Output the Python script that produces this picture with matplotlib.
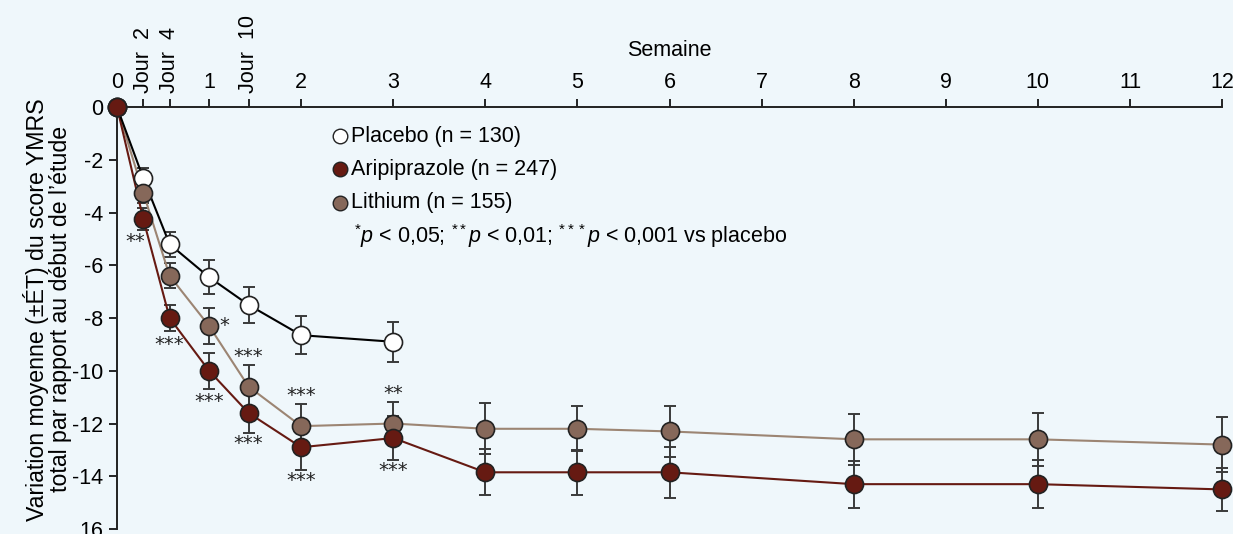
import matplotlib
matplotlib.use("Agg")
from matplotlib import pyplot as plt

plt.rcParams['font.family'] = ['Liberation Sans', 'DejaVu Sans']
plt.rcParams['mathtext.fontset'] = 'custom'
plt.rcParams['mathtext.rm'] = 'Liberation Sans'
plt.rcParams['mathtext.it'] = 'Liberation Sans:italic'

# time points in weeks (day 2, day 4, day 10 -> /7)
weeks = [0, 2/7, 4/7, 1, 10/7, 2, 3, 4, 5, 6, 8, 10, 12]
weeks_placebo = [0, 2/7, 4/7, 1, 10/7, 2, 3]

placebo = [0, -2.7, -5.2, -6.45, -7.5, -8.65, -8.9]
placebo_err = [0, 0.4, 0.47, 0.65, 0.68, 0.72, 0.76]

aripiprazole = [0, -4.25, -8.0, -10.0, -11.6, -12.9, -12.55, -13.85, -13.85, -13.85, -14.3, -14.3, -14.5]
aripiprazole_err = [0, 0.42, 0.5, 0.68, 0.76, 0.85, 0.82, 0.88, 0.86, 0.96, 0.89, 0.9, 0.82]

lithium = [0, -3.25, -6.4, -8.3, -10.6, -12.1, -12.0, -12.2, -12.2, -12.3, -12.6, -12.6, -12.8]
lithium_err = [0, 0.4, 0.47, 0.7, 0.82, 0.84, 0.82, 0.96, 0.86, 0.96, 0.96, 1.0, 1.03]

# significance marks: (x, y, text)
stars = [
    (0.2, -5.1, '**'),
    (4/7, -9.02, '***'),
    (1.17, -8.3, '*'),
    (1, -11.15, '***'),
    (10/7, -9.47, '***'),
    (10/7, -12.77, '***'),
    (2, -10.95, '***'),
    (2, -14.15, '***'),
    (3, -10.85, '**'),
    (3, -13.77, '***'),
]

week_ticks = list(range(0, 13))
day_ticks = [2/7, 4/7, 10/7]
day_labels = ['Jour  2', 'Jour  4', 'Jour  10']
y_ticks = [0, -2, -4, -6, -8, -10, -12, -14, -16]
y_labels = ['0', '-2', '-4', '-6', '-8', '-10', '-12', '-14', '16']

bg = '#eff7fb'
red = '#661a12'
brown = '#86685a'
brown_line = '#9c8573'
err_col = '#3a3a3a'
fs = 15.5

fig = plt.figure(figsize=(12.33, 5.34), dpi=100, facecolor=bg)
ax = fig.add_axes([0.0949, 0.0094, 0.8962, 0.790], facecolor=bg)

ax.set_xlim(0, 12)
ax.set_ylim(-16, 0)

eb_kw = dict(fmt='none', ecolor=err_col, elinewidth=1.4, capsize=4.5, capthick=1.4, zorder=2, clip_on=False)
ax.errorbar(weeks, lithium, yerr=lithium_err, **eb_kw)
ax.errorbar(weeks, aripiprazole, yerr=aripiprazole_err, **eb_kw)
ax.errorbar(weeks_placebo, placebo, yerr=placebo_err, **eb_kw)

ax.plot(weeks, lithium, color=brown_line, lw=1.5, zorder=3, clip_on=False)
ax.plot(weeks, aripiprazole, color=red, lw=1.5, zorder=3, clip_on=False)
ax.plot(weeks_placebo, placebo, color='black', lw=1.5, zorder=3, clip_on=False)

mk = dict(marker='o', ms=13, mec='#222222', mew=1.2, ls='none', zorder=4, clip_on=False)
ax.plot(weeks_placebo, placebo, mfc='white', **mk)
ax.plot(weeks, lithium, mfc=brown, **mk)
ax.plot(weeks, aripiprazole, mfc=red, **mk)

for x, y, s in stars:
    ax.text(x, y, s, ha='center', va='center', fontsize=14, color='#222222', family='DejaVu Sans')

# legend drawn by hand
lx, ly, step = 2.42, -1.1, 1.26
for i, (fc, lab) in enumerate([('white', 'Placebo (n = 130)'),
                              (red, 'Aripiprazole (n = 247)'),
                              (brown, 'Lithium (n = 155)')]):
    yy = ly - i * step
    ax.plot([lx], [yy], marker='o', ms=10.5, mfc=fc, mec='#222222', mew=1.0, ls='none')
    ax.text(lx + 0.12, yy, lab, va='center', ha='left', fontsize=fs)
ax.text(lx + 0.15, ly - 3 * step,
        r'$^{*}\mathit{p}$ < 0,05; $^{**}\mathit{p}$ < 0,01; $^{***}\mathit{p}$ < 0,001 vs placebo',
        va='center', ha='left', fontsize=fs)

# axes styling
ax.spines['right'].set_visible(False)
ax.spines['bottom'].set_visible(False)
for sp in ('left', 'top'):
    ax.spines[sp].set_linewidth(1.4)
    ax.spines[sp].set_color('#222222')

ax.xaxis.tick_top()
ax.set_xticks(week_ticks)
ax.set_xticklabels([str(w) for w in week_ticks])
ax.set_xticks(day_ticks, minor=True)
ax.set_xticklabels(day_labels, minor=True, rotation=90)
ax.tick_params(axis='x', which='both', direction='out', length=6, width=1.2, labelsize=fs, pad=4)
ax.text(0.5, 1.135, 'Semaine', transform=ax.transAxes, ha='center', va='center', fontsize=fs)

ax.set_yticks(y_ticks)
ax.set_yticklabels(y_labels)
ax.tick_params(axis='y', direction='out', length=6, width=1.2, labelsize=fs, pad=4)
ax.set_ylabel("Variation moyenne (\u00b1\u00c9T) du score YMRS\ntotal par rapport au d\u00e9but de l\u2019\u00e9tude",
              fontsize=16.7, linespacing=1.0)
ax.yaxis.set_label_coords(-0.0407, 0.521)

fig.savefig('out.png', dpi=100, facecolor=bg)
